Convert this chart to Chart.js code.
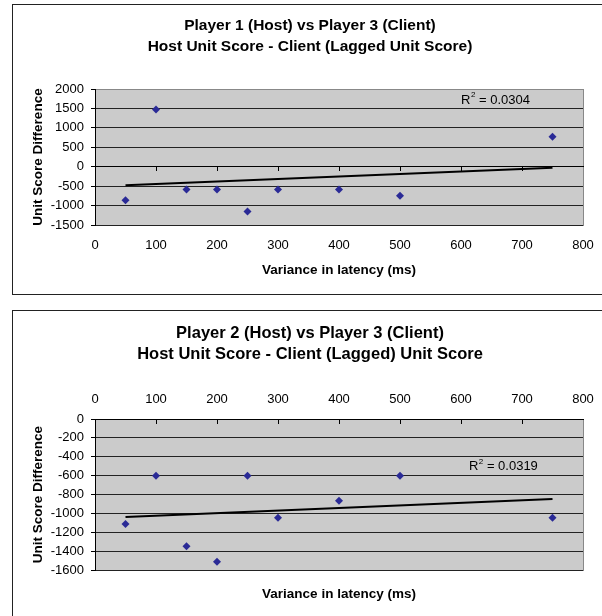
<!DOCTYPE html>
<html>
<head>
<meta charset="utf-8">
<script src="https://cdn.jsdelivr.net/npm/chart.js@4.4.1/dist/chart.umd.min.js"></script>
<style>
  body { margin: 0; background: #fff; width: 602px; height: 616px; overflow: hidden; position: relative; }
  .frame { position: absolute; left: 12px; width: 620px; box-sizing: border-box; border: 1.5px solid #222; }
  #f1 { top: 4px; height: 291px; }
  #f2 { top: 310px; height: 330px; }
  canvas { position: absolute; left: 0; }
  #c1 { top: 0; }
  #c2 { top: 300px; }
</style>
</head>
<body>
<div class="frame" id="f1"></div>
<div class="frame" id="f2"></div>
<canvas id="c1" width="620" height="300"></canvas>
<canvas id="c2" width="620" height="316"></canvas>
<script>
// latency variance (ms) for each game
const latency = [50, 100, 150, 200, 250, 300, 400, 500, 750];
// host unit score - client unit score
const diff1 = [-860, 1470, -585, -585, -1150, -585, -585, -750, 770];
const diff2 = [-1110, -600, -1345, -1510, -600, -1045, -865, -600, -1045];
// linear trendline ends
const trendX = [50, 750];
const trend1 = [-480, -25];
const trend2 = [-1036, -845];
const r2Text = ['0.0304', '0.0319'];

const xTicks = [0, 100, 200, 300, 400, 500, 600, 700, 800];
const yTicks1 = [-1500, -1000, -500, 0, 500, 1000, 1500, 2000];
const yTicks2 = [-1600, -1400, -1200, -1000, -800, -600, -400, -200, 0];

Chart.defaults.font.family = '"Liberation Sans", Arial, sans-serif';
Chart.defaults.color = '#000';

const FONT = '"Liberation Sans", Arial, sans-serif';

const plotBg = {
  id: 'plotBg',
  beforeDraw(chart, args, opts) {
    const { ctx, chartArea: a } = chart;
    ctx.save();
    ctx.fillStyle = opts.color;
    ctx.fillRect(a.left, a.top, a.right - a.left, a.bottom - a.top);
    ctx.restore();
  }
};

// "R² = ..." label, anchored in data units
const rSquared = {
  id: 'rSquared',
  afterDatasetsDraw(chart, args, opts) {
    const { ctx, scales } = chart;
    let x = scales.x.getPixelForValue(opts.x);
    const y = scales.y.getPixelForValue(opts.y);
    ctx.save();
    ctx.fillStyle = '#000';
    ctx.textBaseline = 'middle';
    ctx.textAlign = 'left';
    ctx.font = '13px ' + FONT;
    ctx.fillText('R', x, y);
    x += ctx.measureText('R').width + 0.5;
    ctx.font = '8px ' + FONT;
    ctx.fillText('2', x, y - 5);
    x += ctx.measureText('2').width;
    ctx.font = '13px ' + FONT;
    ctx.fillText(' = ' + opts.text, x, y);
    ctx.restore();
  }
};

function gridColor(c) {
  const v = c.tick && c.tick.value;
  if (v === 0) return '#000';
  if (v === c.scale.max) return '#888';
  return '#222';
}

const plain = v => String(v);

function makeChart(id, cfg) {
  const ticksFrom = arr => s => { s.ticks = arr.map(v => ({ value: v })); };
  const scales = {
    y: {
      min: cfg.yTicks[0], max: cfg.yTicks[cfg.yTicks.length - 1],
      afterBuildTicks: ticksFrom(cfg.yTicks),
      ticks: { padding: 7, font: { size: 13 }, callback: plain },
      grid: { color: gridColor, tickColor: '#000', tickLength: 4 },
      border: { color: '#000' },
      title: { display: true, text: 'Unit Score Difference', font: { size: 13.5, weight: 'bold' }, padding: { top: 16.9, bottom: 0 } },
      afterFit: s => { s.width = 82; s.paddingTop = 0; s.paddingBottom = 0; }
    },
    yRight: {
      axis: 'y', position: 'right',
      ticks: { display: false }, grid: { display: false, drawTicks: false },
      border: { display: true, color: '#888' },
      afterFit: s => { s.width = 24; }
    },
    x: {
      type: 'linear', position: cfg.xPos, min: 0, max: 800,
      afterBuildTicks: ticksFrom(xTicks),
      ticks: { padding: cfg.xPad, font: { size: 13 }, callback: plain },
      grid: { display: false, drawTicks: false },
      border: { display: false },
      title: cfg.xPos === 'bottom'
        ? { display: true, text: 'Variance in latency (ms)', font: { size: 13.5, weight: 'bold' }, padding: { top: 0, bottom: 15.9 } }
        : { display: false },
      afterFit: s => { s.height = cfg.xHeight; s.paddingLeft = 0; s.paddingRight = 0; }
    },
    // axis line crossing at zero with tick marks
    xZero: {
      axis: 'x', type: 'linear', position: { y: 0 }, min: 0, max: 800,
      afterBuildTicks: ticksFrom(xTicks),
      ticks: { display: false },
      grid: { drawOnChartArea: false, drawTicks: true, tickLength: 4, color: '#000' },
      border: { display: true, color: '#000' }
    }
  };
  if (cfg.xPos === 'top') {
    scales.xTitle = {
      axis: 'x', type: 'linear', position: 'bottom', min: 0, max: 800,
      ticks: { display: false }, grid: { display: false, drawTicks: false },
      border: { display: false },
      title: { display: true, text: 'Variance in latency (ms)', font: { size: 13.5, weight: 'bold' }, padding: { top: 0, bottom: 7.9 } },
      afterFit: s => { s.height = 40; s.paddingLeft = 0; s.paddingRight = 0; }
    };
  }
  return new Chart(document.getElementById(id), {
    type: 'scatter',
    data: {
      datasets: [
        {
          label: 'Unit score difference',
          data: latency.map((x, i) => ({ x, y: cfg.values[i] })),
          pointStyle: 'rectRot', pointRadius: 4, pointBorderWidth: 0,
          backgroundColor: '#2A2A96', borderColor: '#2A2A96'
        },
        {
          label: 'Linear trend',
          type: 'line',
          data: trendX.map((x, i) => ({ x, y: cfg.trend[i] })),
          showLine: true, borderColor: '#000', borderWidth: 2, pointRadius: 0, fill: false
        }
      ]
    },
    options: {
      responsive: false, animation: false, devicePixelRatio: 1,
      layout: { padding: cfg.layoutPad },
      scales,
      plugins: {
        legend: { display: false },
        tooltip: { enabled: false },
        title: {
          display: true, text: cfg.title,
          font: { size: cfg.titleSize, weight: 'bold', lineHeight: 1.3 },
          padding: cfg.titlePad, color: '#000'
        },
        plotBg: { color: '#CBCBCB' },
        rSquared: cfg.r2
      }
    },
    plugins: [plotBg, rSquared]
  });
}

makeChart('c1', {
  title: ['Player 1 (Host) vs Player 3 (Client)', 'Host Unit Score - Client (Lagged Unit Score)'],
  titleSize: 15.5, titlePad: { top: 11, bottom: 32.7 },
  layoutPad: { top: 5, left: 13, right: 13, bottom: 6 },
  values: diff1, trend: trend1, yTicks: yTicks1,
  xPos: 'bottom', xPad: 13, xHeight: 69,
  r2: { x: 600, y: 1717, text: r2Text[0] }
});

makeChart('c2', {
  title: ['Player 2 (Host) vs Player 3 (Client)', 'Host Unit Score - Client (Lagged) Unit Score'],
  titleSize: 16.5, titlePad: { top: 11.6, bottom: 23.5 },
  layoutPad: { top: 11, left: 13, right: 13, bottom: 5.7 },
  values: diff2, trend: trend2, yTicks: yTicks2,
  xPos: 'top', xPad: 12.2, xHeight: 30,
  r2: { x: 613, y: -505, text: r2Text[1] }
});
</script>
</body>
</html>
